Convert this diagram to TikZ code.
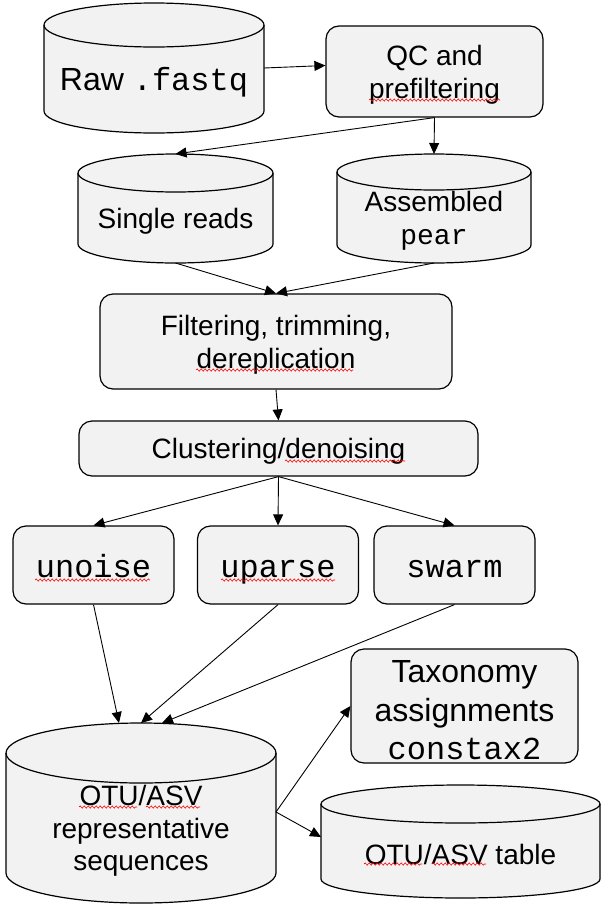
\documentclass[tikz,border=0pt]{standalone}
\usepackage{fontspec}
\setmainfont{Liberation Sans}
\setmonofont{Liberation Mono}
\usetikzlibrary{arrows.meta,calc,decorations.pathmorphing}
\definecolor{boxgray}{HTML}{F2F2F2}
\newcommand{\normtxt}{\fontsize{28}{32.5}\selectfont}
\newcommand{\bigtxt}{\fontsize{32}{38.5}\selectfont}
\newcommand{\monotxt}{\fontsize{32}{36}\selectfont\ttfamily}
\newcommand{\lift}{\rule{0pt}{0.95em}}
\tikzstyle{Process}=[shape=rectangle, rounded corners=13pt, draw=black, fill=boxgray, line width=1.2pt, align=center, inner sep=0pt, font=\normtxt]
\tikzstyle{Tool}=[Process, font=\monotxt, minimum width=161pt, minimum height=78pt, text height=30pt, text depth=6pt]
\tikzstyle{Store}=[shape=rectangle, inner sep=0pt, outer sep=0pt, align=center, font=\normtxt]
\tikzstyle{dbshape}=[draw=black, fill=boxgray, line width=1.2pt]
\tikzstyle{arrow}=[-{Triangle[length=11pt,width=10pt]}, line width=0.9pt]
\tikzstyle{spellcheck}=[draw=red, line width=0.6pt, decorate, decoration={snake, amplitude=1.1pt, segment length=4pt}]
\pgfdeclarelayer{background}
\pgfsetlayers{background,main}
% cylinder round a Store node: name, x radius, y radius
\newcommand{\dbdraw}[3]{%
  \draw [style=dbshape] (#1.north west) -- ($(#1.south west)+(0,-#3)$)
    arc [start angle=180, end angle=0, x radius=#2, y radius=#3]
    -- (#1.north east) arc [start angle=0, end angle=-180, x radius=#2, y radius=#3] -- cycle;
  \draw [style=dbshape, fill=none] (#1.north west) arc [start angle=180, end angle=0, x radius=#2, y radius=#3];
}
\begin{document}
\begin{tikzpicture}[x=1pt, y=-1pt]
	\useasboundingbox (0,0) rectangle (611,911);
	\node [style=Store, minimum width=220pt, minimum height=108pt, font=\bigtxt] (raw) at (154,79) {\lift Raw \texttt{.fastq}};
	\node [style=Process, minimum width=217pt, minimum height=91pt] (qc) at (434.5,71.5) {\lift QC and\\prefiltering};
	\node [style=Store, minimum width=195pt, minimum height=90pt] (single) at (175.5,218) {\lift Single reads};
	\node [style=Store, minimum width=194pt, minimum height=91pt] (asm) at (434,217.5) {\lift Assembled\\\texttt{pear}};
	\node [style=Process, minimum width=352pt, minimum height=95pt] (filt) at (276,341.5) {\lift Filtering, trimming,\\dereplication};
	\node [style=Process, minimum width=399pt, minimum height=55pt, text height=24pt, text depth=5pt] (clust) at (278.5,448.5) {Clustering/denoising};
	\node [style=Tool] (unoise) at (93.5,565) {unoise};
	\node [style=Tool] (uparse) at (278,565) {uparse};
	\node [style=Tool] (swarm) at (454.5,565) {swarm};
	\node [style=Process, minimum width=227pt, minimum height=114pt, font=\bigtxt] (taxo) at (464.5,706) {\lift Taxonomy\\assignments\\\texttt{constax2}};
	\node [style=Store, minimum width=270pt, minimum height=150pt] (otu) at (141,828) {\lift OTU/ASV\\representative\\sequences};
	\node [style=Store, minimum width=279pt, minimum height=94pt] (table) at (460.5,851) {\lift OTU/ASV table};

	\coordinate (single-top) at ([yshift=19pt]single.north);
	\coordinate (asm-top) at ([yshift=18pt]asm.north);
	\coordinate (otu-top) at ([yshift=30pt]otu.north);

	\begin{pgfonlayer}{background}
		\dbdraw{raw}{110}{22}
		\dbdraw{single}{97.5}{19}
		\dbdraw{asm}{97}{18}
		\dbdraw{otu}{135}{30}
		\dbdraw{table}{139.5}{19}
	\end{pgfonlayer}

	\draw [style=arrow] ([yshift=11pt]raw.east) to ([yshift=6pt]qc.west);
	\draw [style=arrow] (qc.south) to (single-top);
	\draw [style=arrow] (qc.south) to (asm-top);
	\draw [style=arrow] (single.south) to (filt.north);
	\draw [style=arrow] (asm.south) to (filt.north);
	\draw [style=arrow] (filt.south) to (clust.north);
	\draw [style=arrow] (clust.south) to (unoise.north);
	\draw [style=arrow] (clust.south) to (uparse.north);
	\draw [style=arrow] (clust.south) to (swarm.north);
	\draw [style=arrow] (unoise.south) to ([xshift=-22pt]otu-top);
	\draw [style=arrow] (uparse.south) to (otu-top);
	\draw [style=arrow] (swarm.south) to ([xshift=21pt]otu-top);
	\draw [style=arrow] ([yshift=16pt]otu.east) to (taxo.west);
	\draw [style=arrow] ([yshift=16pt]otu.east) to ([yshift=14pt]table.west);

	% spell check marks
	\draw [style=spellcheck] (369,100) -- (500,100);
	\draw [style=spellcheck] (196,370) -- (353,370);
	\draw [style=spellcheck] (285,461) -- (405,461);
	\draw [style=spellcheck] (35,580) -- (150,580);
	\draw [style=spellcheck] (221,580) -- (335,580);
	\draw [style=spellcheck] (79,807) -- (137,807);
	\draw [style=spellcheck] (146,807) -- (200,807);
	\draw [style=spellcheck] (364,864) -- (422,864);
	\draw [style=spellcheck] (432,864) -- (486,864);
\end{tikzpicture}
\end{document}
